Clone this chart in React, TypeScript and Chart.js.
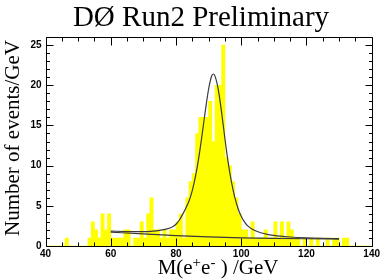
import React, { useEffect, useRef } from "react";
import { Chart, registerables } from "chart.js";

Chart.register(...registerables);

// Histogram: lower bin edges (GeV) and counts per 1 GeV bin
const binLowEdges = [
  40, 41, 42, 43, 44, 45, 46, 47, 48, 49,
  50, 51, 52, 53, 54, 55, 56, 57, 58, 59,
  60, 61, 62, 63, 64, 65, 66, 67, 68, 69,
  70, 71, 72, 73, 74, 75, 76, 77, 78, 79,
  80, 81, 82, 83, 84, 85, 86, 87, 88, 89,
  90, 91, 92, 93, 94, 95, 96, 97, 98, 99,
  100, 101, 102, 103, 104, 105, 106, 107, 108, 109,
  110, 111, 112, 113, 114, 115, 116, 117, 118, 119,
  120, 121, 122, 123, 124, 125, 126, 127, 128, 129,
  130, 131, 132, 133, 134, 135, 136, 137, 138, 139,
];
const binWidth = 1;
const counts = [
  0, 0, 0, 0, 0, 0, 1, 0, 0, 0,
  0, 0, 0, 1, 3, 2, 1, 4, 2, 4,
  1, 1, 1, 1, 2, 2, 0, 1, 1, 3,
  1, 4, 6, 2, 2, 1, 2, 1, 2, 2,
  3, 4, 1, 6, 8, 9, 14, 16, 16, 16,
  18, 13, 20, 20, 25, 11, 10, 8, 6, 4,
  2, 2, 1, 3, 1, 1, 1, 2, 1, 1,
  3, 1, 3, 1, 3, 2, 1, 1, 0, 1,
  0, 1, 0, 1, 0, 0, 1, 0, 1, 1,
  0, 1, 1, 0, 0, 0, 0, 0, 0, 0,
];

// Fit (signal + background)
const fitMass = [
  60, 65, 70, 73, 75, 77, 79, 80, 81, 82, 83, 84, 85, 86, 87, 88, 89, 90, 91,
  91.5, 92, 93, 94, 95, 96, 97, 98, 99, 100, 101, 102, 104, 106, 108, 110, 112,
  115, 120, 125, 130,
];
const fitTotal = [
  1.85, 1.8, 1.78, 1.85, 1.95, 2.1, 2.4, 2.7, 3.2, 3.9, 4.7, 5.6, 6.9, 8.7, 11.0,
  13.8, 16.8, 19.5, 21.2, 21.4, 21.1, 19.4, 16.6, 13.4, 10.4, 8.0, 6.1, 4.7, 3.7,
  3.0, 2.5, 1.95, 1.65, 1.45, 1.32, 1.22, 1.12, 1.02, 0.96, 0.92,
];

// Background component of the fit
const bkgMass = [60, 70, 80, 90, 100, 110, 120, 130];
const bkgValues = [1.72, 1.5, 1.3, 1.13, 1.02, 0.95, 0.9, 0.86];

const xTickValues = [40, 60, 80, 100, 120, 140];
const yTickValues = [0, 5, 10, 15, 20, 25];
const xRange = [40, 140];
const yRange = [0, 26];
const xMinorStep = 5;
const yMinorStep = 1;

const titleText = "DØ Run2 Preliminary";
const yTitle = "Number of events/GeV";

const W = 382;
const H = 279;

const serif = '"Liberation Serif", "Times New Roman", serif';

const decorPlugin = {
  id: "decor",
  afterDatasetsDraw(chart: any) {
    const { ctx, chartArea } = chart;
    const xs = chart.scales.x;
    const ys = chart.scales.y;
    const L = Math.round(chartArea.left) + 0.5;
    const R = Math.round(chartArea.right) + 0.5;
    const T = Math.round(chartArea.top) + 0.5;
    const B = Math.round(chartArea.bottom) + 0.5;
    ctx.save();
    ctx.strokeStyle = "#000";
    ctx.lineWidth = 1;
    ctx.beginPath();
    ctx.rect(L, T, R - L, B - T);
    ctx.stroke();

    const majX = 8, minX = 4, majY = 7, minY = 3.5;
    ctx.beginPath();
    for (let v = xRange[0]; v <= xRange[1] + 1e-6; v += xMinorStep) {
      const px = Math.round(xs.getPixelForValue(v)) + 0.5;
      const len = xTickValues.includes(v) ? majX : minX;
      ctx.moveTo(px, B);
      ctx.lineTo(px, B - len);
      ctx.moveTo(px, T);
      ctx.lineTo(px, T + len);
    }
    for (let v = yRange[0]; v <= yRange[1] + 1e-6; v += yMinorStep) {
      const py = Math.round(ys.getPixelForValue(v)) + 0.5;
      const len = yTickValues.includes(v) ? majY : minY;
      ctx.moveTo(L, py);
      ctx.lineTo(L + len, py);
      ctx.moveTo(R, py);
      ctx.lineTo(R - len, py);
    }
    ctx.stroke();
    ctx.restore();
  },
  afterDraw(chart: any) {
    const { ctx } = chart;
    ctx.save();
    ctx.fillStyle = "#000";
    // Title
    ctx.font = `29px ${serif}`;
    ctx.textAlign = "center";
    ctx.textBaseline = "alphabetic";
    ctx.fillText(titleText, 201, 26);

    // Y title
    ctx.save();
    ctx.font = `21px ${serif}`;
    ctx.translate(19, 138);
    ctx.rotate(-Math.PI / 2);
    ctx.textAlign = "center";
    ctx.fillText(yTitle, 0, 0);
    ctx.restore();

    // X title: M(e+e- ) /GeV with superscripts
    const base = `21px ${serif}`;
    const sup = `15px ${serif}`;
    const parts: [string, string, number][] = [
      ["M(e", base, 0],
      ["+", sup, -7],
      ["e", base, 0],
      ["-", sup, -7],
      [" ) /GeV", base, 0],
    ];
    let total = 0;
    for (const [t, f] of parts) {
      ctx.font = f;
      total += ctx.measureText(t).width;
    }
    let x = 218 - total / 2;
    ctx.textAlign = "left";
    for (const [t, f, dy] of parts) {
      ctx.font = f;
      ctx.fillText(t, x, 274 + dy);
      x += ctx.measureText(t).width;
    }
    ctx.restore();
  },
};

export default function App() {
  const ref = useRef<HTMLCanvasElement | null>(null);
  useEffect(() => {
    document.body.style.margin = "0";
    const canvas = ref.current;
    if (!canvas) return;
    const tickFont = { family: '"Liberation Sans", Arial, sans-serif', size: 10, weight: "bold" as const };
    const chart = new Chart(canvas, {
      type: "bar",
      data: {
        datasets: [
          {
            type: "line" as const,
            label: "fit",
            data: fitMass.map((m, i) => ({ x: m, y: fitTotal[i] })),
            borderColor: "#3a3a3a",
            borderWidth: 1.2,
            pointRadius: 0,
            fill: false,
            cubicInterpolationMode: "monotone" as const,
            order: 1,
          },
          {
            type: "line" as const,
            label: "background",
            data: bkgMass.map((m, i) => ({ x: m, y: bkgValues[i] })),
            borderColor: "#3a3a3a",
            borderWidth: 1.2,
            pointRadius: 0,
            fill: false,
            cubicInterpolationMode: "monotone" as const,
            order: 1,
          },
          {
            type: "bar" as const,
            label: "data",
            data: binLowEdges.map((e, i) => ({ x: e + binWidth / 2, y: counts[i] })),
            backgroundColor: "#ffff00",
            borderWidth: 0,
            barPercentage: 1,
            categoryPercentage: 1,
            order: 2,
          },
        ],
      } as any,
      options: {
        responsive: false,
        animation: false,
        devicePixelRatio: 1,
        layout: { padding: { left: 0, top: 37, right: 9.5, bottom: 0 } },
        plugins: {
          legend: { display: false },
          tooltip: { enabled: false },
          title: { display: false },
        },
        scales: {
          x: {
            type: "linear",
            min: xRange[0],
            max: xRange[1],
            offset: false,
            grid: { display: false, drawTicks: false },
            border: { display: false },
            afterBuildTicks: (s: any) => {
              s.ticks = xTickValues.map((v) => ({ value: v }));
            },
            afterFit: (s: any) => {
              s.height = 33;
            },
            ticks: {
              font: tickFont,
              color: "#000",
              padding: 2,
              maxRotation: 0,
              autoSkip: false,
              callback: (v: any) => String(v),
            },
          },
          y: {
            type: "linear",
            min: yRange[0],
            max: yRange[1],
            grid: { display: false, drawTicks: false },
            border: { display: false },
            afterBuildTicks: (s: any) => {
              s.ticks = yTickValues.map((v) => ({ value: v }));
            },
            afterFit: (s: any) => {
              s.width = 45.5;
            },
            ticks: {
              font: tickFont,
              color: "#000",
              padding: 4,
              autoSkip: false,
              callback: (v: any) => String(v),
            },
          },
        },
      } as any,
      plugins: [decorPlugin],
    });
    return () => chart.destroy();
  }, []);
  return (
    <div style={{ width: W, height: H, background: "#fff" }}>
      <canvas ref={ref} width={W} height={H} style={{ display: "block" }} />
    </div>
  );
}
